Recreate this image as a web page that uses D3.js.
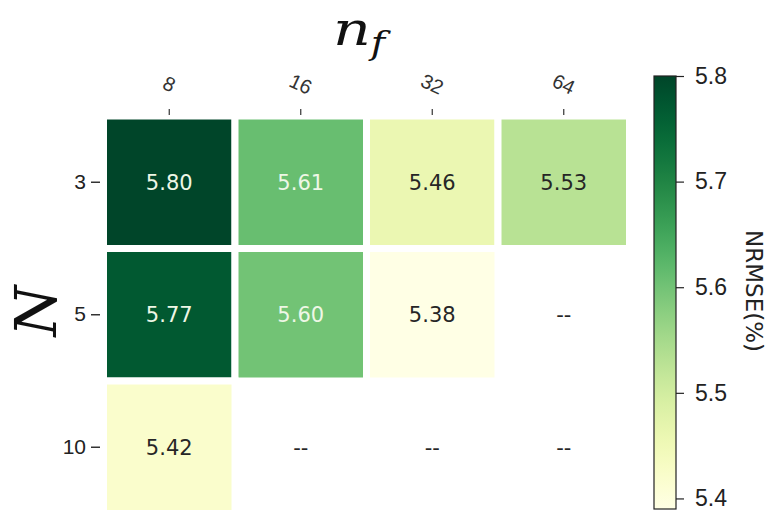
<!DOCTYPE html>
<html>
<head>
<meta charset="utf-8">
<script src="https://cdn.jsdelivr.net/npm/d3@7"></script>
<style>
  body { margin: 0; background: #fff; }
  svg { font-family: "DejaVu Sans", sans-serif; }
  .mathTitle { font-family: "DejaVu Serif", serif; font-style: italic; }
</style>
</head>
<body>
<div class="heatmap"></div>
<script>
// values
const nfLabels = ["8", "16", "32", "64"];
const nLabels = ["3", "5", "10"];
const nrmseN3 = [5.80, 5.61, 5.46, 5.53];
const nrmseN5 = [5.77, 5.60, 5.38, null];
const nrmseN10 = [5.42, null, null, null];
const cbarTicks = [5.4, 5.5, 5.6, 5.7, 5.8];
const cbarMin = 5.39, cbarMax = 5.80;

const rows = [nrmseN3, nrmseN5, nrmseN10];
let cells = [];
rows.forEach((r, i) => r.forEach((v, j) => cells.push({ n: nLabels[i], nf: nfLabels[j], v: v })));

const svg = d3.select('.heatmap')
	.append('svg')
	.attr('width', 776)
	.attr('height', 510);

let x = d3.scaleBand().domain(nfLabels).range([103.5, 629.5]);
let y = d3.scaleBand().domain(nLabels).range([116, 513.5]);
let color = d3.scaleSequential(d3.interpolateYlGn).domain([cbarMin, cbarMax]).clamp(true);

// cells
svg.append('g')
	.selectAll('rect')
	.data(cells.filter(d => d.v != null))
	.join('rect')
	.attr('x', d => x(d.nf))
	.attr('y', d => y(d.n))
	.attr('width', x.bandwidth())
	.attr('height', y.bandwidth())
	.attr('fill', d => color(d.v))
	.attr('stroke', 'white')
	.attr('stroke-width', 7);

// annotations
svg.append('g')
	.selectAll('text')
	.data(cells)
	.join('text')
	.text(d => d.v == null ? '--' : d.v.toFixed(2))
	.attr('x', d => x(d.nf) + x.bandwidth() / 2)
	.attr('y', d => y(d.n) + y.bandwidth() / 2)
	.attr('dy', '0.36em')
	.attr('text-anchor', 'middle')
	.attr('font-size', '21px')
	.attr('fill', d => (d.v != null && d.v > 5.58) ? '#eef7e6' : '#262626');

// top axis (n_f)
let xAxis = svg.append('g')
	.attr('transform', 'translate(0,115)')
	.call(d3.axisTop(x).tickSize(6).tickPadding(0));
xAxis.select('.domain').remove();
xAxis.selectAll('line').attr('stroke', '#333').attr('stroke-width', 1.2);
xAxis.selectAll('text')
	.attr('font-size', '20px')
	.attr('fill', '#333')
	.attr('text-anchor', 'middle')
	.attr('y', 0)
	.attr('transform', 'translate(0,-31) rotate(25)')
	.attr('dy', '0.35em');

// left axis (N)
let yAxis = svg.append('g')
	.attr('transform', 'translate(100,0)')
	.call(d3.axisLeft(y).tickSize(9).tickPadding(5));
yAxis.select('.domain').remove();
yAxis.selectAll('line').attr('stroke', '#333').attr('stroke-width', 1.5);
yAxis.selectAll('text')
	.attr('font-size', '21px')
	.attr('fill', '#222');

// axis titles
let nfTitle = svg.append('text')
	.attr('class', 'mathTitle')
	.attr('transform', 'translate(333,45) scale(1.25,1)')
	.attr('font-size', '47px')
	.attr('fill', '#111');
nfTitle.append('tspan').text('n');
nfTitle.append('tspan').text('f').attr('font-size', '31px').attr('dy', 9).attr('dx', 0);

svg.append('text')
	.attr('class', 'mathTitle')
	.text('N')
	.attr('transform', 'translate(56,311) rotate(-90)')
	.attr('text-anchor', 'middle')
	.attr('font-size', '58px')
	.attr('fill', '#111');

// colorbar
let cbY = d3.scaleLinear().domain([cbarMin, cbarMax]).range([509, 76]);
let grad = svg.append('defs')
	.append('linearGradient')
	.attr('id', 'cbar')
	.attr('x1', 0).attr('y1', 1)
	.attr('x2', 0).attr('y2', 0);
grad.selectAll('stop')
	.data(d3.range(0, 1.0001, 0.05))
	.join('stop')
	.attr('offset', d => d)
	.attr('stop-color', d => color(cbarMin + d * (cbarMax - cbarMin)));

svg.append('rect')
	.attr('x', 654)
	.attr('y', cbY(cbarMax))
	.attr('width', 22)
	.attr('height', cbY(cbarMin) - cbY(cbarMax))
	.attr('fill', 'url(#cbar)')
	.attr('stroke', '#222')
	.attr('stroke-width', 1.2);

let cbAxis = svg.append('g')
	.attr('transform', 'translate(676,0)')
	.call(d3.axisRight(cbY).tickValues(cbarTicks).tickFormat(d3.format('.1f')).tickSize(8).tickPadding(11));
cbAxis.select('.domain').remove();
cbAxis.selectAll('line').attr('stroke', '#222').attr('stroke-width', 1.2);
cbAxis.selectAll('text')
	.attr('font-size', '23px')
	.attr('fill', '#222');

svg.append('text')
	.text('NRMSE(%)')
	.attr('transform', 'translate(746,291) rotate(90)')
	.attr('text-anchor', 'middle')
	.attr('font-size', '23px')
	.attr('fill', '#222');
</script>
</body>
</html>
